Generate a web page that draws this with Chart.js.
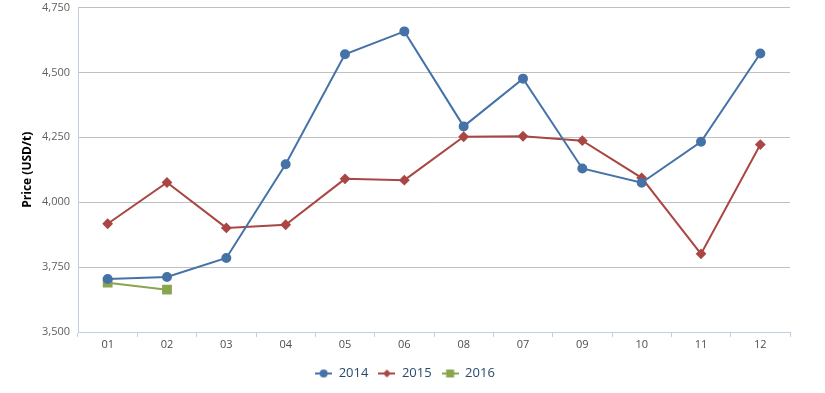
<!DOCTYPE html>
<html>
<head>
<meta charset="utf-8">
<script src="https://cdn.jsdelivr.net/npm/chart.js@4"></script>
<style>
html,body{margin:0;padding:0;background:#fff;}
#wrap{width:825px;height:393px;position:relative;}
</style>
</head>
<body>
<div id="wrap"><canvas id="c" width="825" height="393"></canvas></div>
<script>
const categories = ["01","02","03","04","05","06","08","07","09","10","11","12"];
const s2014 = [3704, 3712, 3785, 4146, 4570, 4658, 4292, 4476, 4130, 4075, 4233, 4573];
const s2015 = [3917, 4076, 3901, 3913, 4090, 4085, 4252, 4254, 4237, 4094, 3801, 4222];
const s2016 = [3690, 3663];
const yTicks = [3500, 3750, 4000, 4250, 4500, 4750];

const FONT = "'Open Sans', 'DejaVu Sans', sans-serif";

function legendIcon(color, shape) {
  const cv = document.createElement('canvas');
  cv.width = 17; cv.height = 10;
  const g = cv.getContext('2d');
  g.strokeStyle = color; g.lineWidth = 2;
  g.beginPath(); g.moveTo(0, 5); g.lineTo(17, 5); g.stroke();
  g.fillStyle = color;
  g.beginPath();
  if (shape === 'circle') { g.arc(8.5, 5, 4, 0, Math.PI * 2); }
  else if (shape === 'diamond') { g.moveTo(8.5, 1); g.lineTo(12.5, 5); g.lineTo(8.5, 9); g.lineTo(4.5, 5); g.closePath(); }
  else { g.rect(4.5, 1, 8, 8); }
  g.fill();
  return cv;
}

const colors = ['#4572A7', '#AA4643', '#89A54E'];
const icons = [legendIcon(colors[0], 'circle'), legendIcon(colors[1], 'diamond'), legendIcon(colors[2], 'square')];

new Chart(document.getElementById('c'), {
  type: 'line',
  data: {
    labels: categories,
    datasets: [
      { label: '2014', data: s2014, borderColor: colors[0], backgroundColor: colors[0], borderWidth: 2, pointStyle: 'circle', pointRadius: 4, pointHoverRadius: 4, tension: 0 },
      { label: '2015', data: s2015, borderColor: colors[1], backgroundColor: colors[1], borderWidth: 2, pointStyle: 'rectRot', pointRadius: 4, pointHoverRadius: 4, tension: 0 },
      { label: '2016', data: s2016, borderColor: colors[2], backgroundColor: colors[2], borderWidth: 2, pointStyle: 'rect', pointRadius: 5.5, pointHoverRadius: 5.5, tension: 0 }
    ]
  },
  options: {
    responsive: false,
    animation: false,
    layout: { padding: { left: 0, right: 15, top: 7, bottom: 3 } },
    plugins: {
      tooltip: { enabled: false },
      legend: {
        position: 'bottom',
        labels: {
          usePointStyle: true,
          pointStyleWidth: 17,
          generateLabels: (chart) => chart.data.datasets.map((d, i) => ({
            text: d.label, pointStyle: icons[i], fillStyle: colors[i], strokeStyle: colors[i], lineWidth: 0, datasetIndex: i, fontColor: '#274b6d'
          })),
          font: { family: FONT, size: 13 },
          color: '#274b6d',
          padding: 10,
          boxHeight: 10
        }
      }
    },
    scales: {
      x: {
        offset: true,
        grid: { offset: true, drawOnChartArea: false, drawTicks: true, tickLength: 5, color: '#C0D0E0', lineWidth: 1 },
        border: { display: true, color: '#C0D0E0', width: 1 },
        ticks: { color: '#4d4d4d', font: { family: FONT, size: 11 }, padding: 1, autoSkip: false, maxRotation: 0 },
        afterFit: (s) => { s.height = 25; }
      },
      y: {
        min: 3500, max: 4750,
        afterBuildTicks: (s) => { s.ticks = yTicks.map(v => ({ value: v })); },
        grid: { color: '#C0C0C0', lineWidth: 1, drawTicks: false },
        border: { display: true, color: '#C0D0E0', width: 1 },
        ticks: { color: '#606060', font: { family: FONT, size: 11 }, padding: 8, callback: (v) => v.toLocaleString('en-US') },
        title: { display: true, text: 'Price (USD/t)', color: '#000', font: { family: FONT, size: 12, weight: 'bold' }, padding: { top: 20, bottom: 4 } },
        afterFit: (s) => { s.width = 78; s.paddingTop = 0; s.paddingBottom = 0; }
      },
      yr: {
        position: 'right',
        display: true,
        grid: { drawOnChartArea: false, drawTicks: false },
        border: { display: false },
        ticks: { display: false },
        afterFit: (s) => { s.width = 20; s.paddingTop = 0; s.paddingBottom = 0; }
      }
    }
  }
});
</script>
</body>
</html>
